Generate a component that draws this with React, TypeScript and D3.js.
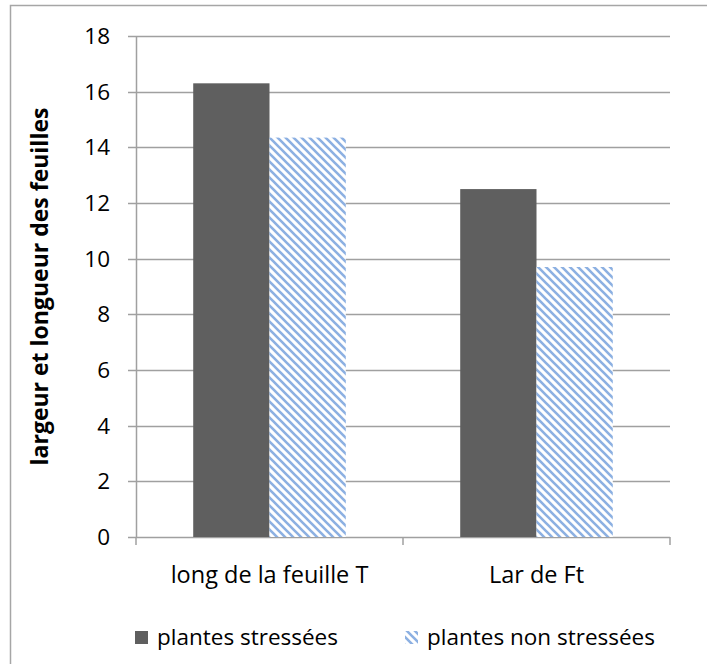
import React, { useEffect, useRef } from "react";
import * as d3 from "d3";

const categories = ["long de la feuille T", "Lar de Ft"];
const seriesNames = ["plantes stressées", "plantes non stressées"];
const stressed = [16.3, 12.5];
const nonStressed = [14.35, 9.7];
const yTicks = [0, 2, 4, 6, 8, 10, 12, 14, 16, 18];
const yLabel = "largeur et longueur des feuilles";

const App: React.FC = () => {
  const svgRef = useRef<SVGSVGElement>(null);
  const width = 707;
  const height = 664;
  const margin = { top: 36, right: 37, bottom: 127, left: 136 };
  const font = "'Open Sans', 'Liberation Sans', sans-serif";

  useEffect(() => {
    if (!svgRef.current) return;
    const svg = d3.select(svgRef.current);
    svg.selectAll("*").remove();

    const innerWidth = width - margin.left - margin.right;
    const innerHeight = height - margin.top - margin.bottom;

    // diagonal hatch for the second series
    const defs = svg.append("defs");
    const pat = defs
      .append("pattern")
      .attr("id", "hatch")
      .attr("patternUnits", "userSpaceOnUse")
      .attr("width", 8)
      .attr("height", 8);
    pat.append("rect").attr("width", 8).attr("height", 8).attr("fill", "#ffffff");
    pat
      .append("path")
      .attr("d", "M-1,-1 L9,9 M-1,7 L1,9 M7,-1 L9,1")
      .attr("stroke", "#8cb0e2")
      .attr("stroke-width", 2.6);

    // outer chart border
    svg
      .append("rect")
      .attr("x", 10.5)
      .attr("y", 5.5)
      .attr("width", 720)
      .attr("height", 700)
      .attr("fill", "none")
      .attr("stroke", "#a6a6a6")
      .attr("stroke-width", 1.5);

    const x0 = d3.scaleBand().domain(categories).range([0, innerWidth]).padding(0);
    const x1 = d3
      .scaleBand()
      .domain(seriesNames)
      .range([0, x0.bandwidth()])
      .paddingInner(0)
      .paddingOuter(0.75);
    const y = d3.scaleLinear().domain([0, 18]).range([innerHeight, 0]);

    const g = svg.append("g").attr("transform", `translate(${margin.left},${margin.top})`);

    // grid lines
    g.append("g")
      .selectAll("line")
      .data(yTicks)
      .enter()
      .append("line")
      .attr("x1", -8)
      .attr("x2", innerWidth)
      .attr("y1", (d) => Math.round(y(d)) + 0.5)
      .attr("y2", (d) => Math.round(y(d)) + 0.5)
      .attr("stroke", "#a0a0a0")
      .attr("stroke-width", 1.5);

    // y axis line
    g.append("line")
      .attr("x1", 0.5)
      .attr("x2", 0.5)
      .attr("y1", 0)
      .attr("y2", innerHeight)
      .attr("stroke", "#a0a0a0")
      .attr("stroke-width", 1.5);

    // x axis ticks at category boundaries
    g.append("g")
      .selectAll("line")
      .data([0, 1, 2])
      .enter()
      .append("line")
      .attr("x1", (d) => d * x0.bandwidth())
      .attr("x2", (d) => d * x0.bandwidth())
      .attr("y1", innerHeight)
      .attr("y2", innerHeight + 8)
      .attr("stroke", "#a0a0a0")
      .attr("stroke-width", 1.5);

    // tick labels
    g.append("g")
      .selectAll("text")
      .data(yTicks)
      .enter()
      .append("text")
      .attr("x", -26)
      .attr("y", (d) => y(d))
      .attr("dy", "0.36em")
      .attr("text-anchor", "end")
      .attr("font-family", font)
      .attr("font-size", 22.5)
      .attr("fill", "#000")
      .text((d) => d);

    // bars
    const groups = g
      .selectAll("g.cat")
      .data(categories)
      .enter()
      .append("g")
      .attr("class", "cat")
      .attr("transform", (d) => `translate(${x0(d)},0)`);

    groups
      .append("rect")
      .attr("x", () => x1(seriesNames[0]) || 0)
      .attr("width", x1.bandwidth())
      .attr("y", (_, i) => y(stressed[i]))
      .attr("height", (_, i) => innerHeight - y(stressed[i]))
      .attr("fill", "#5f5f5f");

    groups
      .append("rect")
      .attr("x", () => x1(seriesNames[1]) || 0)
      .attr("width", x1.bandwidth())
      .attr("y", (_, i) => y(nonStressed[i]))
      .attr("height", (_, i) => innerHeight - y(nonStressed[i]))
      .attr("fill", "url(#hatch)");

    // category labels
    groups
      .append("text")
      .attr("x", x0.bandwidth() / 2)
      .attr("y", innerHeight + 38)
      .attr("dy", "0.36em")
      .attr("text-anchor", "middle")
      .attr("font-family", font)
      .attr("font-size", 23.5)
      .attr("fill", "#000")
      .text((d) => d);

    // y label
    svg
      .append("text")
      .attr("transform", `translate(40,${margin.top + innerHeight / 2}) rotate(-90)`)
      .attr("text-anchor", "middle")
      .attr("dy", "0.36em")
      .attr("font-family", font)
      .attr("font-size", 23)
      .attr("font-weight", "bold")
      .attr("fill", "#000")
      .text(yLabel);

    // legend
    const legendY = 637;
    const legendItems = [
      { name: seriesNames[0], fill: "#5f5f5f", x: 135 },
      { name: seriesNames[1], fill: "url(#hatch)", x: 405 },
    ];
    const lg = svg
      .selectAll("g.legend")
      .data(legendItems)
      .enter()
      .append("g")
      .attr("class", "legend")
      .attr("transform", (d) => `translate(${d.x},${legendY})`);
    lg.append("rect")
      .attr("x", 0)
      .attr("y", -6)
      .attr("width", 13)
      .attr("height", 13)
      .attr("fill", (d) => d.fill);
    lg.append("text")
      .attr("x", 22)
      .attr("y", 0)
      .attr("dy", "0.36em")
      .attr("font-family", font)
      .attr("font-size", 22.5)
      .attr("fill", "#000")
      .text((d) => d.name);
  }, []);

  return (
    <svg
      ref={svgRef}
      width={width}
      height={height}
      style={{ position: "absolute", left: 0, top: 0, background: "#fff" }}
    />
  );
};

export default App;
